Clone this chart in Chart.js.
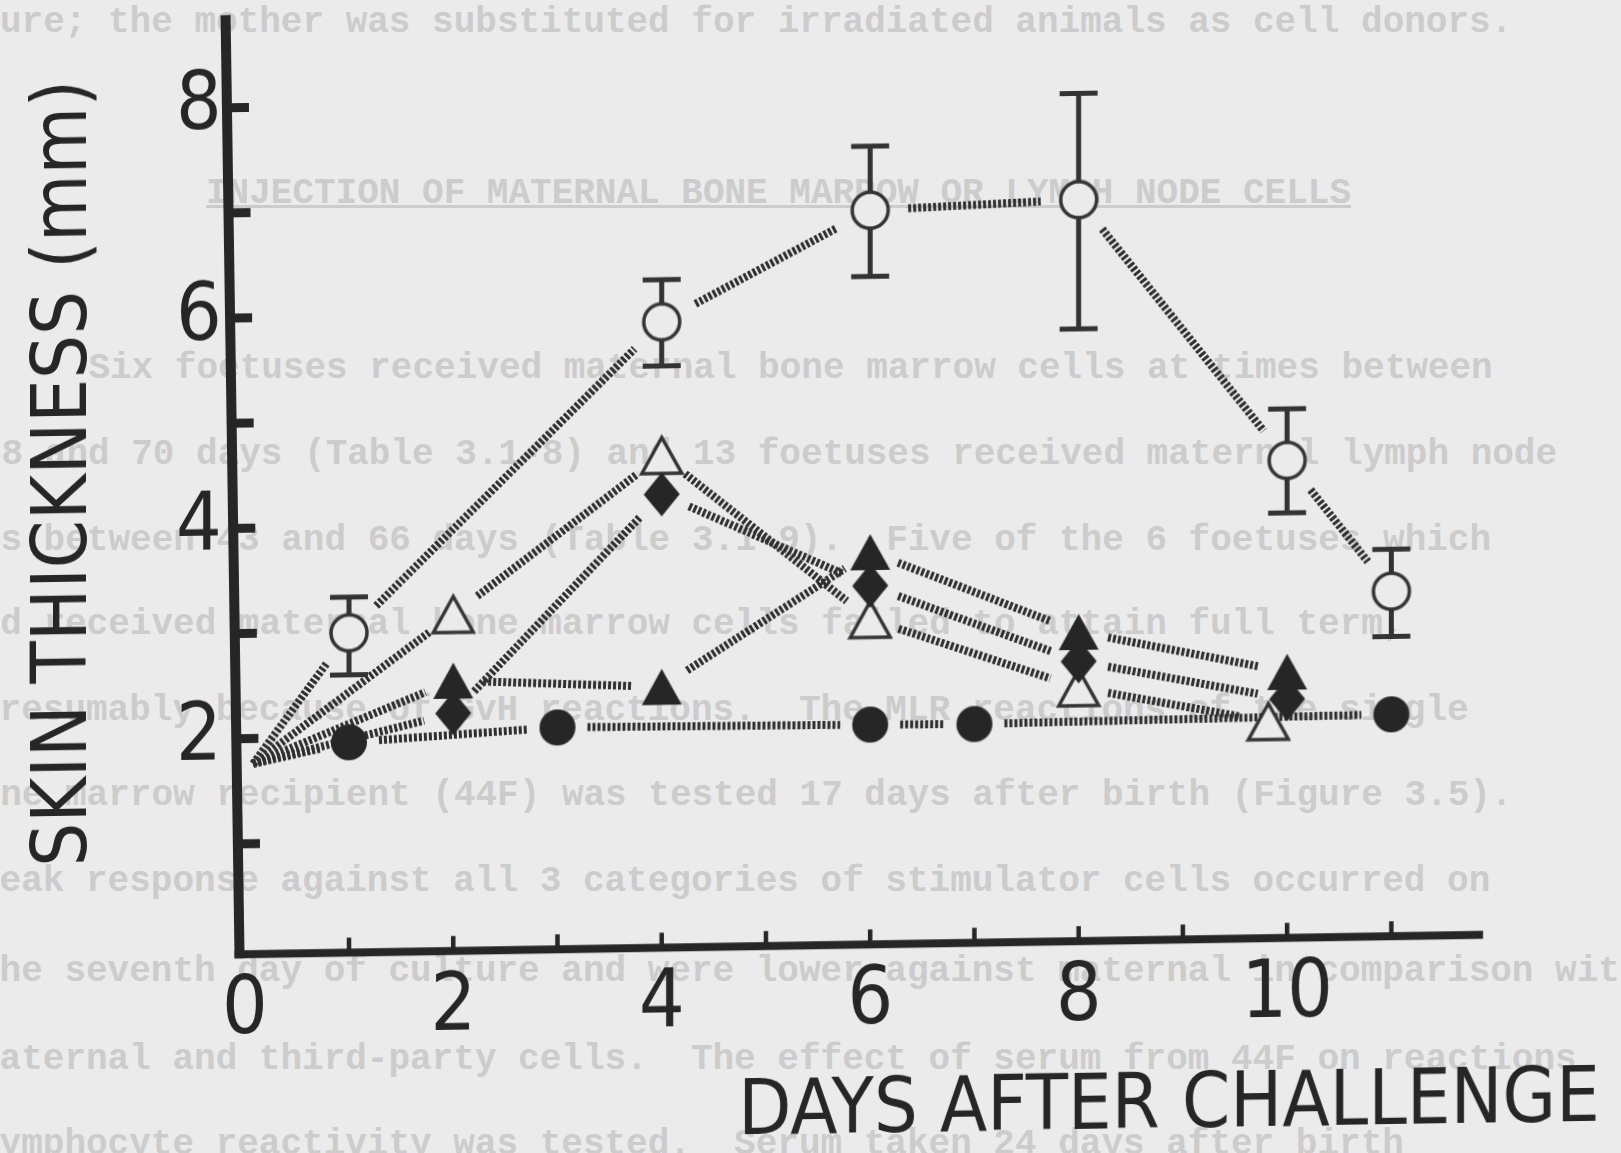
<!DOCTYPE html>
<html>
<head>
<meta charset="utf-8">
<script src="https://cdn.jsdelivr.net/npm/chart.js@4.4.1/dist/chart.umd.min.js"></script>
<style>
    html, body { margin: 0; padding: 0; width: 1621px; height: 1153px; overflow: hidden; background: #ebebeb; }
    #page { position: absolute; left: 0; top: 0; width: 1621px; height: 1153px; overflow: hidden;
            font-family: "Liberation Mono", "DejaVu Sans Mono", monospace; font-size: 36px; font-weight: bold;
            color: #cccccc; white-space: pre; }
    #page div { position: absolute; line-height: 36px; }
    #chartWrap { position: absolute; left: 0; top: 0; width: 1621px; height: 1153px;
                 transform-origin: 245px 949px; transform: skewY(-0.9deg); }
</style>
</head>
<body>
<div id="page"></div>
<div id="chartWrap"><canvas id="skinChart" width="1621" height="1153"></canvas></div>
<script>
// values (days after challenge, skin thickness in mm)
const originDay = 0.08;
const originThickness = 1.76;

const openCircleDays = [1, 4, 6, 8, 10, 11];
const openCircleMean = [2.99, 5.90, 6.93, 7.00, 4.49, 3.23];
const openCircleHigh = [3.33, 6.30, 7.54, 8.01, 4.98, 3.63];
const openCircleLow = [2.59, 5.48, 6.30, 5.77, 3.99, 2.80];

const filledCircleDays = [1, 3, 6, 7, 11];
const filledCircleMean = [1.95, 2.06, 2.04, 2.03, 2.06];

const filledTriangleDays = [2, 4, 6, 8, 10];
const filledTriangleMean = [2.52, 2.43, 3.68, 2.89, 2.48];

const diamondDays = [2, 4, 6, 8, 10];
const diamondMean = [2.21, 4.26, 3.36, 2.61, 2.22];

const openTriangleDays = [2, 4, 6, 8, 9.82];
const openTriangleMean = [3.15, 4.63, 3.04, 2.36, 2.01];

const xTickLabels = [0, 2, 4, 6, 8, 10];
const xTickMarks = [1, 2, 3, 4, 5, 6, 7, 8, 9, 10, 11];
const yTickLabels = [2, 4, 6, 8];
const yTickMarks = [1, 2, 3, 4, 5, 6, 7, 8];
const xAxisEnd = 11.88;
const yAxisTop = 8.88;

// the typed page that shows through behind the figure
const pageText = [
    "ure; the mother was substituted for irradiated animals as cell donors.",
    "INJECTION OF MATERNAL BONE MARROW OR LYMPH NODE CELLS",
    "    Six foetuses received maternal bone marrow cells at times between",
    "58 and 70 days (Table 3.1-8) and 13 foetuses received maternal lymph node",
    "cells between 43 and 66 days (Table 3.1-9).  Five of the 6 foetuses which",
    "had received maternal bone marrow cells failed to attain full term,",
    "presumably because of GvH reactions.  The MLR reactions of the single",
    "bone marrow recipient (44F) was tested 17 days after birth (Figure 3.5).",
    "weak response against all 3 categories of stimulator cells occurred on",
    "the seventh day of culture and were lower against maternal in comparison with",
    "maternal and third-party cells.  The effect of serum from 44F on reactions",
    "lymphocyte reactivity was tested.  Serum taken 24 days after birth"
];
const pageTextTop = [5, 176, 351, 437, 523, 607, 693, 778, 864, 954, 1042, 1127];
const pageTextLeft = [0, 206, 2, -20, -86, -43, -22, -43, -22, -22, -22, -22];

const page = document.getElementById("page");
pageText.forEach((line, i) => {
    const div = document.createElement("div");
    div.style.top = pageTextTop[i] + "px";
    div.style.left = pageTextLeft[i] + "px";
    if (i === 1) div.style.textDecoration = "underline";
    div.textContent = line;
    page.appendChild(div);
});

const INK = "#262626";
const PAPER = "#ebebeb";
const FONT = "'Liberation Sans Narrow', 'DejaVu Sans Condensed', 'Liberation Sans', sans-serif";

function makeMarker(kind) {
    const c = document.createElement("canvas");
    c.width = 46;
    c.height = 50;
    const g = c.getContext("2d");
    const cx = c.width / 2, cy = c.height / 2;
    g.fillStyle = INK;
    g.strokeStyle = "#333";
    g.lineWidth = 3.5;
    g.beginPath();
    switch (kind) {
        case "openCircle":
            g.arc(cx, cy, 18, 0, Math.PI * 2);
            g.fillStyle = PAPER;
            g.fill();
            g.stroke();
            break;
        case "dot":
            g.arc(cx, cy, 18, 0, Math.PI * 2);
            g.fill();
            break;
        case "triangle":
        case "openTriangle":
            g.moveTo(cx, cy - 18);
            g.lineTo(cx + 20, cy + 18);
            g.lineTo(cx - 20, cy + 18);
            g.closePath();
            if (kind === "triangle") {
                g.fill();
            } else {
                g.fillStyle = PAPER;
                g.fill();
                g.stroke();
            }
            break;
        case "diamond":
            g.moveTo(cx, cy - 22);
            g.lineTo(cx + 18, cy);
            g.lineTo(cx, cy + 22);
            g.lineTo(cx - 18, cy);
            g.closePath();
            g.fill();
            break;
    }
    return c;
}

function toPoints(days, values) {
    return days.map((d, i) => ({ x: d, y: values[i] }));
}

function series(label, days, values, kind, gap) {
    return {
        label: label,
        data: toPoints(days, values),
        pointStyle: makeMarker(kind),
        pointRadius: 20,
        linkGap: gap,
        showLine: false
    };
}

// draws the axes, the dotted links between points and the error bars
const sketchPlugin = {
    id: "sketch",
    beforeDatasetsDraw(chart) {
        const ctx = chart.ctx;
        const xs = chart.scales.x;
        const ys = chart.scales.y;
        const px = v => xs.getPixelForValue(v);
        const py = v => ys.getPixelForValue(v);
        const ax = px(-0.05);
        const ay = py(-0.05);
        const lean = v => ax - 14 * v / yAxisTop;

        ctx.save();
        ctx.strokeStyle = INK;
        ctx.lineCap = "butt";

        ctx.lineWidth = 10;
        ctx.beginPath();
        ctx.moveTo(lean(yAxisTop), py(yAxisTop));
        ctx.lineTo(ax, ay + 4);
        ctx.stroke();

        ctx.lineWidth = 8;
        ctx.beginPath();
        ctx.moveTo(ax - 5, ay);
        ctx.lineTo(px(xAxisEnd), ay);
        ctx.stroke();

        ctx.lineWidth = 9;
        yTickMarks.forEach(v => {
            ctx.beginPath();
            ctx.moveTo(lean(v), py(v));
            ctx.lineTo(lean(v) + 22, py(v));
            ctx.stroke();
        });
        ctx.lineWidth = 4.5;
        xTickMarks.forEach(v => {
            ctx.beginPath();
            ctx.moveTo(px(v), ay);
            ctx.lineTo(px(v), ay - 15);
            ctx.stroke();
        });

        ctx.strokeStyle = "#2e2e2e";
        ctx.lineWidth = 8;
        ctx.setLineDash([3, 2]);
        chart.data.datasets.forEach(ds => {
            const pts = [{ x: originDay, y: originThickness, gap: 0 }]
                .concat(ds.data.map(p => ({ x: p.x, y: p.y, gap: ds.linkGap })));
            for (let i = 1; i < pts.length; i++) {
                const a = pts[i - 1], b = pts[i];
                const x1 = px(a.x), y1 = py(a.y), x2 = px(b.x), y2 = py(b.y);
                const len = Math.hypot(x2 - x1, y2 - y1);
                const ux = (x2 - x1) / len, uy = (y2 - y1) / len;
                ctx.beginPath();
                ctx.moveTo(x1 + ux * a.gap, y1 + uy * a.gap);
                ctx.lineTo(x2 - ux * b.gap, y2 - uy * b.gap);
                ctx.stroke();
            }
        });
        ctx.setLineDash([]);

        ctx.strokeStyle = "#333";
        ctx.lineWidth = 5;
        openCircleDays.forEach((d, i) => {
            const x = px(d);
            ctx.beginPath();
            ctx.moveTo(x, py(openCircleHigh[i]));
            ctx.lineTo(x, py(openCircleLow[i]));
            ctx.moveTo(x - 19, py(openCircleHigh[i]));
            ctx.lineTo(x + 19, py(openCircleHigh[i]));
            ctx.moveTo(x - 19, py(openCircleLow[i]));
            ctx.lineTo(x + 19, py(openCircleLow[i]));
            ctx.stroke();
        });
        ctx.restore();
    }
};

const ctx = document.getElementById("skinChart").getContext("2d");
const skinChart = new Chart(ctx, {
    type: "scatter",
    data: {
        datasets: [
            series("filled circles", filledCircleDays, filledCircleMean, "dot", 30),
            series("diamonds", diamondDays, diamondMean, "diamond", 30),
            series("filled triangles", filledTriangleDays, filledTriangleMean, "triangle", 30),
            series("open triangles", openTriangleDays, openTriangleMean, "openTriangle", 30),
            series("open circles", openCircleDays, openCircleMean, "openCircle", 38)
        ]
    },
    options: {
        responsive: false,
        animation: false,
        events: [],
        layout: { padding: { top: 77, right: 16.4, left: 0, bottom: 0 } },
        plugins: {
            legend: { display: false },
            tooltip: { enabled: false }
        },
        scales: {
            x: {
                type: "linear",
                min: 0,
                max: 13,
                afterBuildTicks: scale => { scale.ticks = xTickLabels.map(v => ({ value: v })); },
                afterFit: scale => { scale.height = 204; },
                grid: { display: false },
                border: { display: false },
                ticks: {
                    color: INK,
                    font: { family: FONT, size: 80 },
                    padding: 7,
                    maxRotation: 0,
                    autoSkip: false,
                    callback: v => String(v)
                },
                title: {
                    display: true,
                    text: "DAYS AFTER CHALLENGE",
                    align: "end",
                    color: INK,
                    font: { family: FONT, size: 77, lineHeight: 0.8 },
                    padding: { top: 0, bottom: 0 }
                }
            },
            y: {
                type: "linear",
                min: 0,
                max: 8.29,
                afterBuildTicks: scale => { scale.ticks = yTickLabels.map(v => ({ value: v })); },
                afterFit: scale => { scale.width = 244.8; },
                grid: { display: false },
                border: { display: false },
                ticks: {
                    color: INK,
                    font: { family: FONT, size: 80 },
                    padding: 15,
                    callback: v => String(v)
                },
                title: {
                    display: true,
                    text: "SKIN THICKNESS (mm)",
                    align: "end",
                    color: INK,
                    font: { family: FONT, size: 77, lineHeight: 0.8 },
                    padding: { top: 35, bottom: 0 }
                }
            }
        }
    },
    plugins: [sketchPlugin]
});
</script>
</body>
</html>
